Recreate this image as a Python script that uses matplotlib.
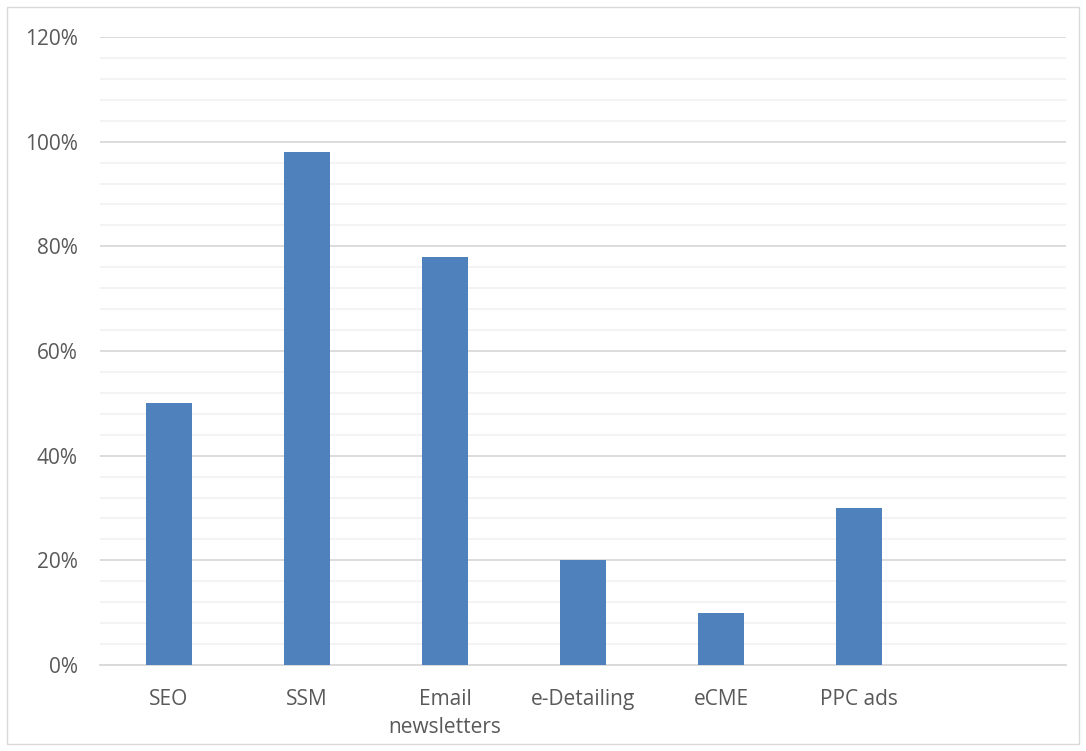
import matplotlib.pyplot as plt
from matplotlib.patches import Rectangle
from matplotlib.ticker import MultipleLocator, PercentFormatter

categories = ["SEO", "SSM", "Email\nnewsletters", "e-Detailing", "eCME", "PPC ads"]
shares = [50, 98, 78, 20, 10, 30]

BAR_COLOR = "#4F81BD"
TEXT_COLOR = "#595959"

plt.rcParams["font.family"] = ["Open Sans", "DejaVu Sans"]

fig = plt.figure(figsize=(10.86, 7.51), dpi=100)
ax = fig.add_axes([100 / 1086, 1 - 665 / 751, 966 / 1086, 628 / 751])

positions = list(range(len(categories)))
ax.bar(positions, shares, width=0.33, color=BAR_COLOR, zorder=3)

# one empty slot on the right, as in the original sheet
ax.set_xlim(-0.5, 6.5)
ax.set_ylim(0, 120)
ax.set_xticks(positions, categories)
ax.yaxis.set_major_locator(MultipleLocator(20))
ax.yaxis.set_minor_locator(MultipleLocator(4))
ax.yaxis.set_major_formatter(PercentFormatter(decimals=0))

ax.grid(axis="y", which="major", color="#D9D9D9", linewidth=1.3, zorder=0)
ax.grid(axis="y", which="minor", color="#F2F2F2", linewidth=1.3, zorder=0)
ax.tick_params(axis="both", which="both", length=0, labelsize=15, colors=TEXT_COLOR)
ax.tick_params(axis="y", pad=16)
ax.tick_params(axis="x", pad=17)
for label in ax.get_xticklabels():
    label.set_linespacing(1.45)
    label.set_verticalalignment("top")

for side in ["top", "right", "left"]:
    ax.spines[side].set_visible(False)
ax.spines["bottom"].set_color("#D9D9D9")
ax.spines["bottom"].set_linewidth(1.3)

# thin frame around the whole chart area
fig.patches.append(
    Rectangle(
        (7 / 1086, 7 / 751), 1 - 14 / 1086, 1 - 14 / 751,
        transform=fig.transFigure, fill=False, edgecolor="#D9D9D9", linewidth=1,
    )
)

fig.savefig("out.png", dpi=100)
